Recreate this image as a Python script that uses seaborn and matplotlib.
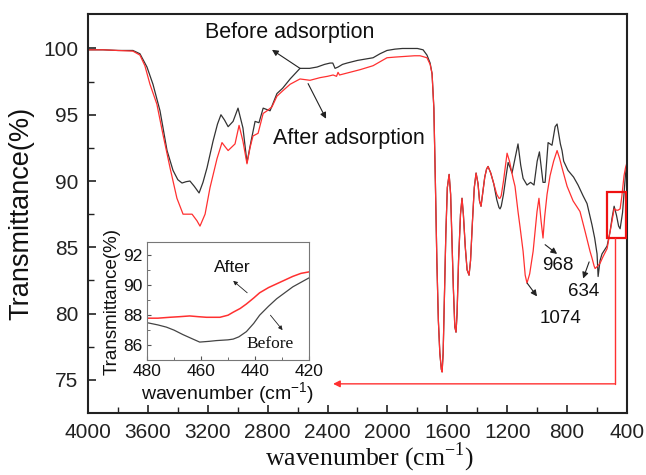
import numpy as np
import pandas as pd
import matplotlib
matplotlib.use("Agg")
import matplotlib.pyplot as plt
from matplotlib.patches import Rectangle
import seaborn as sns

# ---- FTIR spectra: wavenumber (cm-1) and transmittance (%) ----
# region shared by both spectra (1700-1330 cm-1)
common_wn = [1702, 1690, 1680, 1670, 1660, 1650, 1640, 1635, 1628, 1620, 1610, 1600,
             1588, 1578, 1570, 1560, 1550, 1542, 1535, 1525, 1512, 1502, 1493, 1480,
             1468, 1455, 1445, 1432, 1420, 1408, 1395, 1385, 1375, 1365, 1350, 1338]
common_t = [98.1, 95.5, 90.0, 84.0, 79.5, 77.0, 75.8, 75.6, 77.0, 81.0, 86.0, 89.5,
            90.5, 89.0, 86.0, 82.0, 79.0, 78.6, 80.0, 84.0, 87.5, 88.7, 87.5, 85.0,
            83.3, 82.9, 84.0, 87.0, 89.5, 90.6, 89.8, 88.5, 88.1, 89.0, 90.3, 90.9]

before_hi_wn = [4000, 3900, 3800, 3700, 3653, 3606, 3566, 3519, 3472, 3432, 3400, 3372,
                3345, 3319, 3290, 3258, 3232, 3205, 3165, 3135, 3112, 3088, 3064, 3031,
                2998, 2965, 2938, 2911, 2884, 2858, 2830, 2784, 2738, 2700, 2650, 2584,
                2520, 2470, 2420, 2383, 2365, 2350, 2330, 2300, 2270, 2200, 2150, 2096,
                2050, 2003, 1950, 1900, 1849, 1800, 1762, 1736, 1715]
before_hi_t = [99.9, 99.9, 99.85, 99.85, 99.6, 98.6, 97.3, 95.3, 92.3, 90.8, 90.1, 89.85,
               89.95, 90.0, 89.6, 89.1, 89.9, 91.0, 93.0, 94.3, 95.0, 94.6, 94.1, 94.5,
               95.5, 94.0, 91.4, 93.0, 94.5, 94.4, 95.5, 95.3, 96.6, 97.0, 97.7, 98.5,
               98.5, 98.6, 98.8, 98.9, 98.9, 98.5, 98.6, 98.8, 98.9, 99.1, 99.2, 99.3,
               99.6, 99.85, 99.95, 100.0, 100.0, 100.0, 99.9, 99.5, 98.9]

before_lo_wn = [1328, 1310, 1290, 1270, 1255, 1248, 1240, 1225, 1210, 1194, 1180, 1168,
                1150, 1128, 1110, 1094, 1068, 1044, 1021, 1000, 985, 970, 961, 947,
                927, 914, 901, 880, 867, 845, 834, 823, 794, 757, 727, 694, 667, 634,
                616, 600, 593, 580, 567, 533, 513, 500, 486, 470, 456, 446, 430, 420,
                410, 400]
before_lo_t = [91.1, 90.6, 89.8, 88.6, 88.0, 87.9, 88.1, 89.0, 90.2, 91.4, 91.0, 90.6,
               91.6, 92.8, 91.2, 90.2, 89.7, 89.9, 89.7, 91.5, 92.2, 90.8, 89.9, 89.9,
               92.9, 92.8, 92.7, 94.1, 94.3, 92.8, 92.3, 91.5, 90.8, 90.3, 89.7, 88.9,
               88.3, 86.7, 85.7, 84.5, 82.8, 84.0, 84.5, 85.1, 86.2, 87.2, 88.1, 87.4,
               86.6, 86.4, 87.6, 89.0, 90.5, 91.4]

after_hi_wn = [4000, 3900, 3800, 3700, 3653, 3620, 3586, 3540, 3499, 3452, 3406, 3365,
               3335, 3305, 3272, 3252, 3218, 3185, 3138, 3105, 3085, 3064, 3018, 2991,
               2965, 2938, 2918, 2898, 2864, 2830, 2804, 2771, 2738, 2700, 2650, 2584,
               2517, 2450, 2400, 2363, 2340, 2330, 2320, 2250, 2183, 2096, 2050, 2003,
               1950, 1880, 1820, 1782, 1736, 1715]
after_hi_t = [99.9, 99.9, 99.85, 99.8, 99.5, 98.7, 97.3, 95.8, 93.5, 91.0, 88.7, 87.5,
              87.5, 87.5, 87.0, 86.6, 87.5, 89.5, 91.7, 92.9, 92.6, 92.3, 92.8, 94.2,
              93.0, 91.3, 92.5, 93.4, 93.6, 95.1, 95.3, 95.6, 96.4, 96.8, 97.3, 97.7,
              97.6, 97.8, 97.9, 98.0, 97.9, 98.2, 98.0, 98.2, 98.4, 98.7, 99.0, 99.3,
              99.35, 99.4, 99.45, 99.45, 99.3, 98.8]

after_lo_wn = [1328, 1310, 1290, 1270, 1255, 1248, 1240, 1225, 1210, 1201, 1185, 1161,
               1148, 1128, 1114, 1094, 1080, 1068, 1050, 1027, 1001, 988, 974, 961,
               950, 934, 914, 890, 867, 850, 834, 800, 760, 714, 680, 647, 634, 620,
               613, 595, 580, 560, 533, 513, 500, 486, 470, 460, 446, 435, 420, 410, 400]
after_lo_t = [91.1, 90.6, 89.8, 89.0, 88.7, 88.7, 88.9, 90.0, 91.3, 92.1, 91.5, 90.2,
              89.6, 87.7, 86.5, 84.7, 82.9, 82.3, 83.0, 84.7, 87.7, 88.7, 87.0, 85.7,
              87.3, 89.0, 90.4, 91.5, 92.3, 91.7, 91.0, 89.6, 88.5, 87.7, 86.2, 84.7,
              84.2, 83.6, 83.4, 83.6, 83.8, 84.3, 84.9, 86.2, 87.0, 87.9, 87.8, 87.8,
              87.9, 88.8, 90.4, 91.0, 91.4]

# ---- zoomed view 480-420 cm-1 ----
inset_before_wn = [480, 476, 472.8, 470, 466.7, 463, 460.5, 457, 454.3, 450, 448.1, 446,
                   443.2, 440.5, 438.3, 435, 432, 429, 426, 423, 420]
inset_before_t = [87.5, 87.35, 87.2, 87.0, 86.7, 86.4, 86.2, 86.25, 86.3, 86.35, 86.4, 86.55,
                  86.9, 87.45, 88.0, 88.6, 89.1, 89.5, 89.9, 90.2, 90.5]
inset_after_wn = [480, 476, 471.6, 468, 464.2, 461, 458, 453, 450, 448.1, 445.5, 443.2,
                  440.5, 438.3, 435, 432, 429, 426, 423, 420]
inset_after_t = [87.8, 87.8, 87.86, 87.9, 87.95, 87.9, 87.86, 87.86, 88.0, 88.2, 88.45, 88.75,
                 89.15, 89.5, 89.85, 90.1, 90.35, 90.6, 90.8, 90.9]

x_ticks = [4000, 3600, 3200, 2800, 2400, 2000, 1600, 1200, 800, 400]
y_ticks = [75, 80, 85, 90, 95, 100]
inset_x_ticks = [480, 460, 440, 420]
inset_y_ticks = [86, 88, 90, 92]

before = pd.DataFrame({"wn": before_hi_wn + common_wn + before_lo_wn,
                       "T": before_hi_t + common_t + before_lo_t})
after = pd.DataFrame({"wn": after_hi_wn + common_wn + after_lo_wn,
                      "T": after_hi_t + common_t + after_lo_t})
inset_before = pd.DataFrame({"wn": inset_before_wn, "T": inset_before_t})
inset_after = pd.DataFrame({"wn": inset_after_wn, "T": inset_after_t})

sns.set_theme(style="ticks")
plt.rcParams["font.family"] = ["Liberation Sans", "DejaVu Sans"]
plt.rcParams["mathtext.fontset"] = "custom"
plt.rcParams["mathtext.rm"] = "Liberation Serif"

BLACK = "#333333"
RED = "#ff3030"
SANS = ["Liberation Sans", "DejaVu Sans"]
SERIF = ["Liberation Serif", "DejaVu Serif"]

fig = plt.figure(figsize=(6.46, 4.75), dpi=100)
ax = fig.add_axes([0.1362, 0.1305, 0.8344, 0.8400])

sns.lineplot(data=before, x="wn", y="T", ax=ax, color=BLACK, lw=0.9,
             estimator=None, sort=False)
sns.lineplot(data=after, x="wn", y="T", ax=ax, color=RED, lw=0.9,
             estimator=None, sort=False)

ax.set_xlim(4000, 400)
ax.set_ylim(72.5, 102.6)
ax.set_xticks(x_ticks)
ax.set_xticks(np.arange(3800, 400, -400), minor=True)
ax.set_yticks(y_ticks)
ax.set_yticks(np.arange(77.5, 102.5, 5), minor=True)
ax.set_xticklabels([str(v) for v in x_ticks])
ax.set_yticklabels([str(v) for v in y_ticks])
ax.tick_params(axis="both", which="major", direction="in", length=6, width=1.2,
               labelsize=15, pad=7, color="#222222", labelcolor="#222222")
ax.tick_params(axis="both", which="minor", direction="in", length=4, width=1.0,
               color="#222222")
ax.tick_params(top=False, right=False, which="both")
for s in ax.spines.values():
    s.set_visible(True)
    s.set_linewidth(1.5)
    s.set_color("#222222")

ax.set_xlabel("wavenumber (cm$^{\\mathregular{-1}}$)", fontsize=18.5,
              family=SERIF, color="#111111")
ax.xaxis.set_label_coords(0.523, -0.068, transform=ax.transAxes)
ax.set_ylabel("Transmittance(%)", fontsize=19.5, family=SANS,
              color="#111111", labelpad=6)

arrow_kw = dict(arrowstyle="-|>", color="#222222", lw=0.8,
                mutation_scale=9, shrinkA=0, shrinkB=0)

ax.text(2651, 101.2, "Before adsorption", fontsize=15.5, ha="center",
        va="center", color="#111111")
ax.annotate("", xy=(2771, 99.9), xytext=(2584, 98.5), arrowprops=arrow_kw)
ax.text(2257, 93.2, "After adsorption", fontsize=15.5, ha="center",
        va="center", color="#111111")
ax.annotate("", xy=(2410, 94.7), xytext=(2530, 97.35), arrowprops=arrow_kw)

ax.text(860, 83.6, "968", fontsize=13.5, ha="center", va="center", color="#111111")
ax.annotate("", xy=(867, 84.5), xytext=(947, 85.2), arrowprops=arrow_kw)
ax.text(693, 81.7, "634", fontsize=13.5, ha="center", va="center", color="#111111")
ax.annotate("", xy=(693, 82.65), xytext=(653, 83.9), arrowprops=arrow_kw)
ax.text(847, 79.6, "1074", fontsize=13.5, ha="center", va="center", color="#111111")
ax.annotate("", xy=(1001, 81.3), xytext=(1067, 82.3), arrowprops=arrow_kw)

# highlighted region and pointer to the zoomed view
ax.add_patch(Rectangle((533, 85.7), 406 - 533, 89.2 - 85.7, fill=False,
                       edgecolor="#ee1111", lw=1.6, zorder=5))
ax.plot([482, 482], [85.7, 74.7], color=RED, lw=1.0, zorder=5)
ax.annotate("", xy=(2363, 74.7), xytext=(482, 74.7),
            arrowprops=dict(arrowstyle="-|>", color=RED, lw=1.0,
                            mutation_scale=10, shrinkA=0, shrinkB=0), zorder=5)

# ---- inset ----
ins = fig.add_axes([0.2276, 0.2421, 0.2508, 0.2484])
ins.set_facecolor("white")
sns.lineplot(data=inset_before, x="wn", y="T", ax=ins, color="#444444", lw=0.9,
             estimator=None, sort=False)
sns.lineplot(data=inset_after, x="wn", y="T", ax=ins, color=RED, lw=1.1,
             estimator=None, sort=False)
ins.set_xlim(480, 420)
ins.set_ylim(85.0, 92.9)
ins.set_xticks(inset_x_ticks)
ins.set_xticks([470, 450, 430], minor=True)
ins.set_yticks(inset_y_ticks)
ins.set_yticks([87, 89, 91], minor=True)
ins.set_xticklabels([str(v) for v in inset_x_ticks])
ins.set_yticklabels([str(v) for v in inset_y_ticks])
ins.tick_params(axis="both", which="major", direction="in", length=3, width=0.8,
                labelsize=12.5, pad=3, color="#555555", labelcolor="#111111")
ins.tick_params(axis="both", which="minor", direction="in", length=2, width=0.6,
                color="#555555")
ins.tick_params(top=False, right=False, which="both")
for s in ins.spines.values():
    s.set_visible(True)
    s.set_linewidth(0.8)
    s.set_color("#777777")
ins.set_xlabel("wavenumber (cm$^{\\mathregular{-1}}$)", fontsize=14, family=SANS,
               color="#111111", labelpad=1)
ins.set_ylabel("Transmittance(%)", fontsize=13.5, family=SANS,
               color="#111111", labelpad=2)

ins_arrow = dict(arrowstyle="-|>", color="#222222", lw=0.6,
                 mutation_scale=6, shrinkA=0, shrinkB=0)
ins.text(448.5, 91.2, "After", fontsize=12.5, ha="center", va="center",
         color="#111111")
ins.annotate("", xy=(448.1, 90.3), xytext=(442.9, 89.5), arrowprops=ins_arrow)
ins.text(434.3, 86.1, "Before", fontsize=12.5, ha="center", va="center",
         family=SERIF, color="#111111")
ins.annotate("", xy=(429.8, 87.0), xytext=(434.3, 88.0), arrowprops=ins_arrow)

fig.savefig("out.png", dpi=100)
